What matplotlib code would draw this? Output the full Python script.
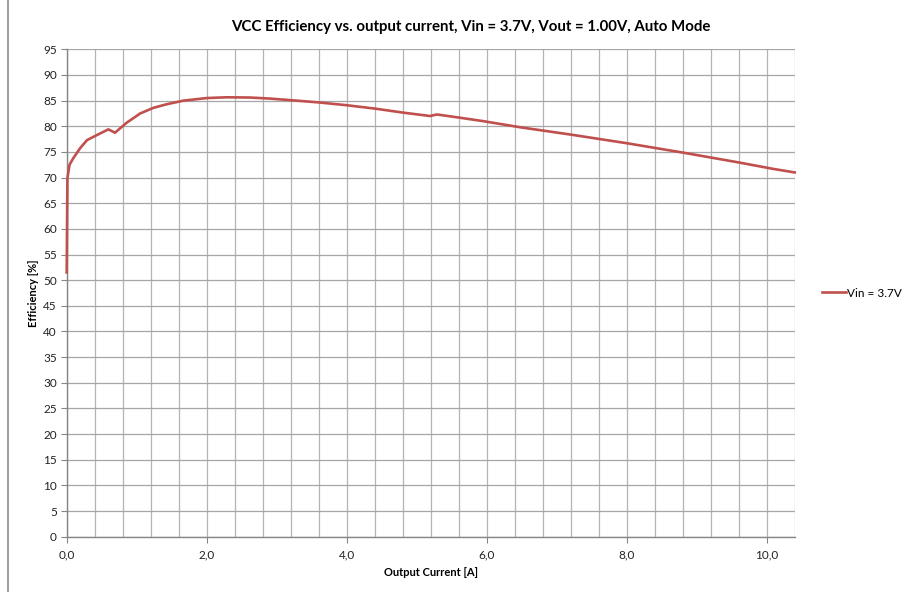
"""
VCC efficiency curve, Excel-style chart
"""

import matplotlib
matplotlib.use("Agg")
import matplotlib.pyplot as plt
from matplotlib.lines import Line2D
from matplotlib.ticker import MultipleLocator, FuncFormatter

plt.rcParams['font.family'] = ['Lato', 'DejaVu Sans']

# output current [A] and efficiency [%]
current = [0.0, 0.01, 0.04, 0.095, 0.19, 0.29, 0.39, 0.595, 0.69, 0.857,
           1.05, 1.24, 1.43, 1.67, 2.0, 2.29, 2.62, 2.9, 3.19, 3.6,
           4.0, 4.4, 4.81, 5.19, 5.29, 5.6, 5.95, 6.48, 7.19, 8.0,
           8.81, 9.62, 10.09, 10.4]
efficiency = [51.5, 69.9, 72.5, 73.8, 75.7, 77.3, 78.0, 79.4, 78.75, 80.7,
              82.5, 83.6, 84.3, 85.0, 85.5, 85.65, 85.6, 85.4, 85.1, 84.65,
              84.1, 83.45, 82.65, 82.0, 82.3, 81.7, 81.0, 79.8, 78.4, 76.7,
              74.85, 72.9, 71.7, 71.0]
series_name = "Vin = 3.7V"
title = "VCC Efficiency vs. output current, Vin = 3.7V, Vout = 1.00V, Auto Mode"

fig = plt.figure(figsize=(9.04, 5.92), dpi=100)
ax = fig.add_axes([0.0738, 0.0934, 0.8053, 0.8233])

ax.plot(current, efficiency, color='#C0504D', lw=1.9, label=series_name,
        solid_joinstyle='round', zorder=3, clip_on=False)

ax.set_xlim(0, 10.4)
ax.set_ylim(0, 95)
ax.xaxis.set_major_locator(MultipleLocator(2.0))
ax.xaxis.set_minor_locator(MultipleLocator(0.4))
ax.yaxis.set_major_locator(MultipleLocator(5))
ax.xaxis.set_major_formatter(FuncFormatter(lambda v, p: f"{v:.1f}".replace('.', ',')))

ax.grid(which='major', axis='y', color='#A6A6A6', lw=0.9)
ax.grid(which='minor', axis='x', color='#B4B4B4', lw=0.9)
ax.grid(which='major', axis='x', color='#B4B4B4', lw=0.9)
ax.set_axisbelow(True)

for side in ['top', 'right']:
    ax.spines[side].set_visible(False)
for side in ['left', 'bottom']:
    ax.spines[side].set_color('#868686')
    ax.spines[side].set_linewidth(1.0)

ax.tick_params(axis='both', which='major', length=4, color='#868686',
               labelsize=8.5, labelcolor='#222222')
ax.tick_params(axis='x', which='minor', length=0)
ax.tick_params(axis='x', pad=5)
ax.tick_params(axis='y', pad=3)

ax.set_xlabel("Output Current [A]", fontsize=8, fontweight='bold', labelpad=5)
ax.set_ylabel("Efficiency [%]", fontsize=8, fontweight='bold', labelpad=3)
fig.text(0.521, 0.955, title, fontsize=10.8, fontweight='bold',
         ha='center', va='center')

ax.legend(loc='center left', bbox_to_anchor=(1.038, 0.5), frameon=False,
          fontsize=8.5, handlelength=2.0, handletextpad=0.1,
          borderpad=0, borderaxespad=0)

# chart frame edge on the left
fig.add_artist(Line2D([0.009, 0.009], [0, 1], color='#A0A0A0', lw=1.5))

fig.savefig("out.png", dpi=100)
